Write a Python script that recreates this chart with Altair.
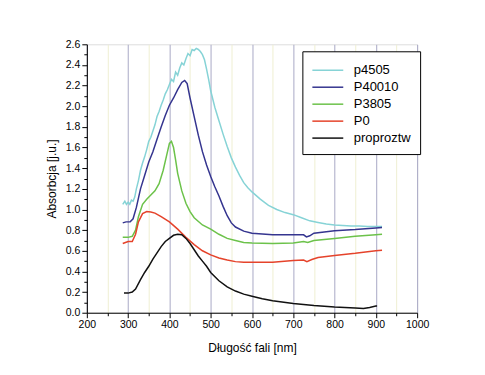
import altair as alt
import pandas as pd

series_names = ["p4505", "P40010", "P3805", "P0", "proproztw"]
series_colors = ["#86d3d6", "#35358f", "#6cc24a", "#e5432b", "#111111"]

wl_p4505 = [287, 292, 296, 300, 304, 308, 312, 316, 320, 325, 330, 335, 340, 345, 350, 355, 360, 365, 370, 375,
            380, 385, 390, 395, 400, 405, 410, 415, 420, 425, 430, 435, 440, 445, 450, 455, 460, 465, 470, 475,
            480, 485, 490, 495, 500, 510, 520, 530, 540, 550, 560, 570, 580, 590, 600, 620, 640, 660, 680, 700,
            720, 740, 760, 780, 800, 820, 840, 860, 880, 900, 915]
val_p4505 = [1.05, 1.08, 1.05, 1.07, 1.05, 1.09, 1.08, 1.12, 1.20, 1.28, 1.38, 1.45, 1.51, 1.58, 1.66, 1.70, 1.76, 1.82, 1.90, 1.95,
             2.01, 2.06, 2.12, 2.16, 2.21, 2.26, 2.24, 2.33, 2.30, 2.37, 2.42, 2.40, 2.46, 2.51, 2.49, 2.55, 2.54, 2.56, 2.55, 2.53,
             2.50, 2.45, 2.36, 2.26, 2.15, 1.99, 1.86, 1.73, 1.61, 1.50, 1.41, 1.33, 1.26, 1.21, 1.17, 1.10, 1.04, 1.00, 0.97, 0.95,
             0.92, 0.89, 0.875, 0.86, 0.85, 0.845, 0.84, 0.84, 0.835, 0.835, 0.835]

wl_p40010 = [287, 295, 305, 312, 320, 330, 340, 350, 360, 370, 380, 390, 400, 410, 420, 430, 437, 443, 450, 460,
             470, 480, 490, 500, 510, 520, 530, 540, 550, 560, 580, 600, 650, 700, 725, 732, 740, 750, 780, 800,
             850, 900, 915]
val_p40010 = [0.87, 0.88, 0.88, 0.91, 1.02, 1.20, 1.33, 1.46, 1.56, 1.68, 1.80, 1.91, 2.01, 2.08, 2.16, 2.23, 2.25, 2.22, 2.08, 1.90,
              1.72, 1.56, 1.43, 1.32, 1.22, 1.13, 1.03, 0.94, 0.87, 0.83, 0.79, 0.77, 0.755, 0.755, 0.755, 0.735, 0.745, 0.77, 0.785, 0.795,
              0.805, 0.82, 0.825]

wl_p3805 = [287, 300, 310, 318, 325, 335, 345, 355, 365, 375, 385, 393, 400, 405, 410, 415, 420, 430, 440, 450,
            460, 480, 500, 520, 540, 560, 580, 600, 650, 700, 725, 735, 750, 800, 850, 900, 915]
val_p3805 = [0.73, 0.73, 0.74, 0.80, 0.93, 1.05, 1.10, 1.14, 1.18, 1.25, 1.38, 1.52, 1.64, 1.66, 1.60, 1.48, 1.35, 1.18, 1.06, 0.98,
             0.92, 0.85, 0.81, 0.76, 0.72, 0.70, 0.68, 0.675, 0.67, 0.675, 0.69, 0.68, 0.70, 0.72, 0.74, 0.755, 0.76]

wl_p0 = [287, 300, 310, 318, 325, 335, 345, 355, 365, 380, 400, 420, 440, 460, 480, 500, 520, 540, 560, 580,
         600, 650, 700, 725, 733, 745, 760, 800, 850, 900, 915]
val_p0 = [0.67, 0.69, 0.69, 0.76, 0.88, 0.96, 0.98, 0.975, 0.965, 0.93, 0.88, 0.81, 0.73, 0.66, 0.60, 0.56, 0.53, 0.51, 0.495, 0.49,
          0.488, 0.49, 0.505, 0.51, 0.495, 0.515, 0.535, 0.555, 0.575, 0.60, 0.605]

wl_prop = [290, 300, 310, 318, 330, 340, 350, 360, 370, 380, 390, 400, 410, 420, 430, 440, 450, 460, 470, 480,
           490, 500, 520, 540, 560, 580, 600, 625, 650, 700, 750, 800, 850, 870, 885, 900, 903]
val_prop = [0.19, 0.19, 0.20, 0.23, 0.32, 0.39, 0.45, 0.52, 0.58, 0.64, 0.69, 0.72, 0.75, 0.76, 0.755, 0.72, 0.67, 0.61, 0.55, 0.50,
            0.45, 0.39, 0.31, 0.25, 0.21, 0.18, 0.16, 0.135, 0.115, 0.09, 0.07, 0.055, 0.045, 0.04, 0.05, 0.065, 0.065]

x_ticks = [200, 250, 300, 350, 400, 450, 500, 550, 600, 650, 700, 750, 800, 850, 900, 950, 1000]
y_ticks = [round(i * 0.1, 1) for i in range(27)]

rows = []
for name, wls, vals in zip(series_names,
                           [wl_p4505, wl_p40010, wl_p3805, wl_p0, wl_prop],
                           [val_p4505, val_p40010, val_p3805, val_p0, val_prop]):
    for w, v in zip(wls, vals):
        rows.append({"series": name, "wl": w, "abs": v})
df = pd.DataFrame(rows)

font = "Liberation Sans"

x_axis = alt.Axis(
    values=x_ticks,
    labelExpr="datum.value % 100 === 0 ? format(datum.value, 'd') : ''",
    grid=True,
    gridColor={"condition": {"test": "datum.value % 100 === 0", "value": "#a9a9c6"}, "value": "#efefd2"},
    gridWidth=1,
    tickSize={"condition": {"test": "datum.value % 100 === 0", "value": 5}, "value": 3},
    tickColor="#000000",
    domainColor="#000000",
    labelFontSize=10.5,
    labelFont=font,
    labelColor="#000000",
    labelPadding=2,
    title="Długość fali [nm]",
    titleFont=font,
    titleFontSize=12,
    titleFontWeight="normal",
    titleColor="#000000",
    titlePadding=12,
    labelFlush=False,
)

y_axis = alt.Axis(
    values=y_ticks,
    labelExpr="round(datum.value * 10) % 2 === 0 ? format(datum.value, '.1f') : ''",
    grid=False,
    tickSize={"condition": {"test": "round(datum.value * 10) % 2 === 0", "value": 5}, "value": 3},
    tickColor="#000000",
    domainColor="#000000",
    labelFontSize=10.5,
    labelFont=font,
    labelColor="#000000",
    labelPadding=2,
    title="Absorbcja [j.u.]",
    titleFont=font,
    titleFontSize=12,
    titleFontWeight="normal",
    titleColor="#000000",
    titlePadding=7,
    labelFlush=False,
)

chart = alt.Chart(df).mark_line(strokeWidth=1.5, clip=True).encode(
    x=alt.X("wl:Q", scale=alt.Scale(domain=[200, 1000], nice=False, zero=False), axis=x_axis),
    y=alt.Y("abs:Q", scale=alt.Scale(domain=[0, 2.6], nice=False), axis=y_axis),
    color=alt.Color(
        "series:N",
        sort=series_names,
        scale=alt.Scale(domain=series_names, range=series_colors),
        legend=alt.Legend(
            title=None,
            orient="none",
            legendX=216,
            legendY=7,
            strokeColor="#000000",
            fillColor="#ffffff",
            padding=9,
            symbolType="M-1.72,0H1.72",
            symbolSize=324,
            symbolOffset=6.5,
            symbolStrokeWidth=1.5,
            labelFontSize=13,
            labelFont=font,
            labelColor="#000000",
            labelOffset=16,
            rowPadding=0,
        ),
    ),
    detail="series:N",
    order="wl:Q",
).properties(
    width=331,
    height=269,
    autosize=alt.AutoSizeParams(type="none"),
    padding={"left": 79, "top": 36, "right": 60, "bottom": 50},
).configure_view(
    stroke="#000000",
    strokeWidth=1,
).configure(background="#ffffff")

chart.save("out.html", embed_options={"renderer": "svg", "actions": False})
